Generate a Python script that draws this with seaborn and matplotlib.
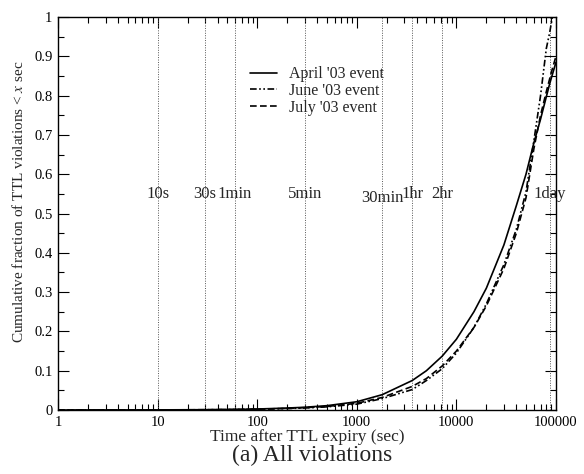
import numpy as np
import pandas as pd
import matplotlib
matplotlib.use("Agg")
import matplotlib.pyplot as plt
import matplotlib.ticker as mticker
import seaborn as sns

# data
april_x = [1, 10, 30, 60, 100, 200, 300, 500, 1000, 1800, 3600, 5000, 7200, 10000,
           15000, 20000, 30000, 40000, 50000, 60000, 70000, 86400, 100000]
april_y = [0, 0.0003, 0.0008, 0.0015, 0.0025, 0.005, 0.007, 0.011, 0.021, 0.039, 0.075, 0.10, 0.137, 0.18,
           0.25, 0.31, 0.42, 0.52, 0.60, 0.68, 0.74, 0.83, 0.885]

june_x = [1, 10, 30, 60, 100, 200, 300, 500, 1000, 1800, 3600, 5000, 7200, 10000,
          15000, 20000, 30000, 40000, 50000, 60000, 70000, 80000, 86400, 92000]
june_y = [0, 0.0002, 0.0006, 0.0012, 0.002, 0.0038, 0.005, 0.008, 0.015, 0.029, 0.052, 0.075, 0.105, 0.145,
          0.21, 0.27, 0.37, 0.46, 0.555, 0.685, 0.80, 0.92, 0.96, 1.0]

july_x = [1, 10, 30, 60, 100, 200, 300, 500, 1000, 1800, 3600, 5000, 7200, 10000,
          15000, 20000, 30000, 40000, 50000, 60000, 70000, 80000, 90000, 100000]
july_y = [0, 0.0002, 0.0007, 0.0013, 0.002, 0.004, 0.006, 0.009, 0.017, 0.032, 0.06, 0.08, 0.112, 0.15,
          0.21, 0.265, 0.36, 0.45, 0.54, 0.665, 0.75, 0.81, 0.86, 0.9]

marks_x = [10, 30, 60, 300, 1800, 3600, 7200, 86400]
marks_lbl = ['10s', '30s', '1min', '5min', '30min', '1hr', '2hr', '1day']
marks_y = [0.55, 0.55, 0.55, 0.55, 0.54, 0.55, 0.55, 0.55]

sns.set_theme(style="ticks")
plt.rcParams['font.family'] = ['Liberation Serif', 'DejaVu Serif']
plt.rcParams['mathtext.fontset'] = 'stix'

fig = plt.figure(figsize=(5.84, 4.74), dpi=100)
ax = fig.add_axes([0.0993, 0.135, 0.8527, 0.829])

# reference times (dotted verticals + labels)
for xv in marks_x:
    ax.axvline(xv, color='#555555', linestyle=(0, (1, 1.5)), linewidth=0.7, zorder=1)
for xv, yv, t in zip(marks_x, marks_y, marks_lbl):
    ax.text(xv, yv, t, ha='center', va='center', fontsize=12)

sns.lineplot(x=april_x, y=april_y, ax=ax, color='black', linewidth=1.2,
             label="April '03 event", estimator=None, sort=False)
sns.lineplot(x=june_x, y=june_y, ax=ax, color='black', linewidth=1.2,
             linestyle=(0, (4, 1.5, 1, 1.5, 1, 1.5)), label="June '03 event",
             estimator=None, sort=False)
sns.lineplot(x=july_x, y=july_y, ax=ax, color='black', linewidth=1.2,
             linestyle=(0, (4, 2)), label="July '03 event", estimator=None, sort=False)

ax.set_xscale('log')
ax.set_xlim(1, 100000)
ax.set_ylim(0, 1)
ax.xaxis.set_major_locator(mticker.LogLocator(base=10, numticks=10))
ax.xaxis.set_minor_locator(mticker.LogLocator(base=10, subs=np.arange(2, 10), numticks=20))
ax.xaxis.set_major_formatter(mticker.FuncFormatter(lambda v, p: f"{int(round(v))}"))
ax.xaxis.set_minor_formatter(mticker.NullFormatter())
ax.yaxis.set_major_locator(mticker.MultipleLocator(0.1))
ax.yaxis.set_minor_locator(mticker.MultipleLocator(0.05))
ax.yaxis.set_major_formatter(mticker.FuncFormatter(lambda v, p: f"{v:g}"))

ax.tick_params(which='both', direction='in', top=True, right=True, labelsize=10.5,
               colors='black', width=0.8)
ax.tick_params(which='major', length=8, pad=4)
ax.tick_params(which='minor', length=4)
for s in ax.spines.values():
    s.set_color('black')
    s.set_linewidth(1.0)

ax.set_xlabel('Time after TTL expiry (sec)', fontsize=12.5, labelpad=0)
ax.set_ylabel('Cumulative fraction of TTL violations < $x$ sec', fontsize=11, labelpad=4)
ax.yaxis.set_label_coords(-0.064, 0.53)

leg = ax.legend(loc='upper left', bbox_to_anchor=(0.386, 0.875), frameon=False,
                fontsize=11.5, handlelength=1.7, handletextpad=0.7, labelspacing=0.05,
                borderpad=0, borderaxespad=0)

fig.text(0.535, 0.04, '(a) All violations', ha='center', va='center', fontsize=17)

fig.savefig('out.png', dpi=100)
